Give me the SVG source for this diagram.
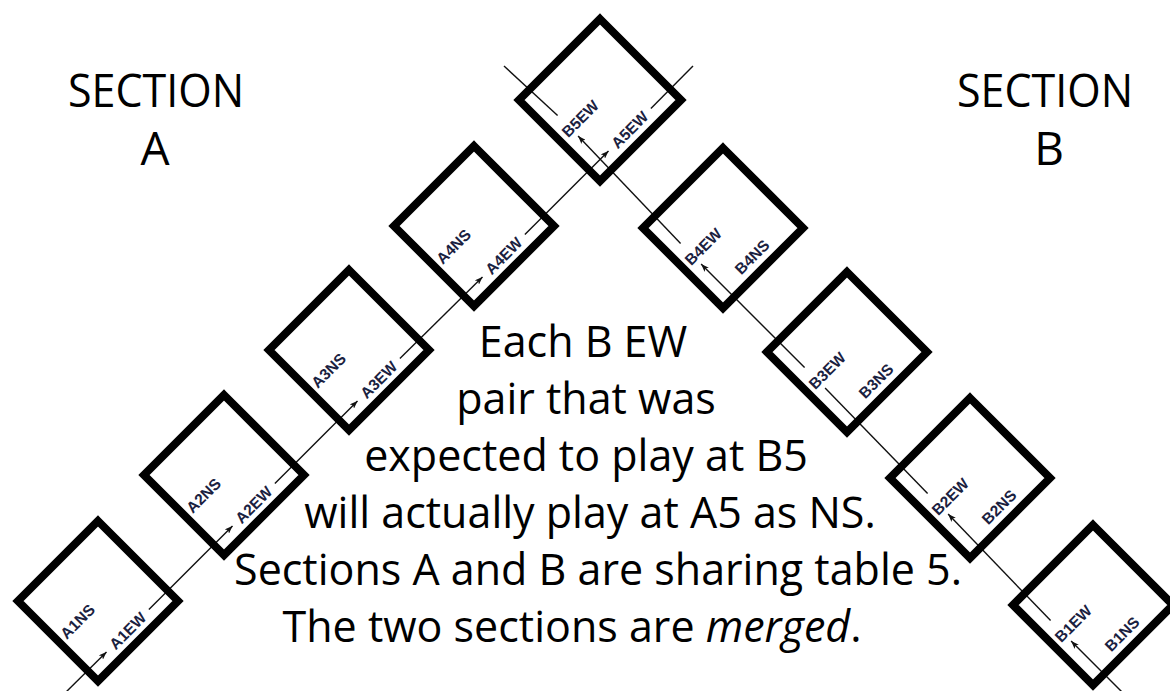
<svg xmlns="http://www.w3.org/2000/svg" width="1170" height="691" viewBox="0 0 1170 691">
<style>
.tbl{fill:none;stroke:#000;stroke-width:8;stroke-linejoin:miter}
.ln{fill:none;stroke:#111;stroke-width:1.4}
.lbl{font-family:"Liberation Sans",Arial,sans-serif;font-weight:bold;font-size:15.5px;fill:#1a2140;text-anchor:middle;dominant-baseline:central}
.big{font-family:"Open Sans","Noto Sans",sans-serif;font-size:43px;fill:#000;text-anchor:middle}
.sec{font-family:"Open Sans","Noto Sans",sans-serif;font-size:46px;fill:#000;text-anchor:middle}
</style>
<defs>
<marker id="arr" viewBox="0 0 8 6" refX="8" refY="3" markerWidth="8" markerHeight="6" markerUnits="userSpaceOnUse" orient="auto">
<path d="M0,0 L8,3 L0,6 L2,3 z" fill="#111"/>
</marker>
</defs>
<rect width="1170" height="691" fill="#fff"/>
<g id="connectors">
<line class="ln" x1="62" y1="696" x2="106.5" y2="651.9" marker-end="url(#arr)"/>
<line class="ln" x1="148.9" y1="609.5" x2="232.5" y2="525.9" marker-end="url(#arr)"/>
<line class="ln" x1="274.9" y1="483.5" x2="357.5" y2="400.9" marker-end="url(#arr)"/>
<line class="ln" x1="399.9" y1="358.5" x2="482.5" y2="276.9" marker-end="url(#arr)"/>
<line class="ln" x1="524.9" y1="234.5" x2="608.5" y2="150.9" marker-end="url(#arr)"/>
<line class="ln" x1="650.9" y1="108.5" x2="693" y2="66"/>
<line class="ln" x1="1126" y1="696" x2="1071.1" y2="641.1" marker-end="url(#arr)"/>
<line class="ln" x1="1050.6" y1="620.6" x2="948.1" y2="514.1" marker-end="url(#arr)"/>
<line class="ln" x1="927.6" y1="493.6" x2="825.1" y2="388.1"/>
<line class="ln" x1="804.6" y1="367.6" x2="701.1" y2="264.1" marker-end="url(#arr)"/>
<line class="ln" x1="680.6" y1="243.6" x2="578.1" y2="136.1" marker-end="url(#arr)"/>
<line class="ln" x1="557.6" y1="115.6" x2="504" y2="66"/>
</g>
<g id="A1">
<polygon class="tbl" points="98,521 178,601 98,681 18,601"/>
<text class="lbl" transform="translate(77.5,621.5) rotate(-45)">A1NS</text>
<text class="lbl" transform="translate(127.7,630.7) rotate(-45)">A1EW</text>
</g>
<g id="A2">
<polygon class="tbl" points="224,395 304,475 224,555 144,475"/>
<text class="lbl" transform="translate(203.5,495.5) rotate(-45)">A2NS</text>
<text class="lbl" transform="translate(253.7,504.7) rotate(-45)">A2EW</text>
</g>
<g id="A3">
<polygon class="tbl" points="349,270 429,350 349,430 269,350"/>
<text class="lbl" transform="translate(328.5,370.5) rotate(-45)">A3NS</text>
<text class="lbl" transform="translate(378.7,379.7) rotate(-45)">A3EW</text>
</g>
<g id="A4">
<polygon class="tbl" points="474,146 554,226 474,306 394,226"/>
<text class="lbl" transform="translate(453.5,246.5) rotate(-45)">A4NS</text>
<text class="lbl" transform="translate(503.7,255.7) rotate(-45)">A4EW</text>
</g>
<g id="T5">
<polygon class="tbl" points="600,19 681,100 600,181 519,100"/>
<text class="lbl" transform="translate(580.2,118.6) rotate(-45)">B5EW</text>
<text class="lbl" transform="translate(629.7,129.7) rotate(-45)">A5EW</text>
</g>
<g id="B4">
<polygon class="tbl" points="723,148 803,228 723,308 643,228"/>
<text class="lbl" transform="translate(703.2,246.6) rotate(-45)">B4EW</text>
<text class="lbl" transform="translate(752,257) rotate(-45)">B4NS</text>
</g>
<g id="B3">
<polygon class="tbl" points="847,272 927,352 847,432 767,352"/>
<text class="lbl" transform="translate(827.2,370.6) rotate(-45)">B3EW</text>
<text class="lbl" transform="translate(876,381) rotate(-45)">B3NS</text>
</g>
<g id="B2">
<polygon class="tbl" points="970,398 1050,478 970,558 890,478"/>
<text class="lbl" transform="translate(950.2,496.6) rotate(-45)">B2EW</text>
<text class="lbl" transform="translate(999,507) rotate(-45)">B2NS</text>
</g>
<g id="B1">
<polygon class="tbl" points="1093,525 1173,605 1093,685 1013,605"/>
<text class="lbl" transform="translate(1073.2,623.6) rotate(-45)">B1EW</text>
<text class="lbl" transform="translate(1122,634) rotate(-45)">B1NS</text>
</g>
<g id="sectionA">
<text class="sec" x="156" y="107" textLength="176" lengthAdjust="spacingAndGlyphs">SECTION</text>
<text class="sec" x="155" y="165">A</text>
</g>
<g id="sectionB">
<text class="sec" x="1045" y="107" textLength="176" lengthAdjust="spacingAndGlyphs">SECTION</text>
<text class="sec" x="1049" y="165">B</text>
</g>
<g id="note">
<text class="big" x="583" y="357">Each B EW</text>
<text class="big" x="586" y="414">pair that was</text>
<text class="big" x="586" y="471">expected to play at B5</text>
<text class="big" x="590" y="528">will actually play at A5 as NS.</text>
<text class="big" x="598" y="585">Sections A and B are sharing table 5.</text>
<text class="big" x="572" y="642">The two sections are <tspan font-style="italic">merged</tspan>.</text>
</g>
</svg>
